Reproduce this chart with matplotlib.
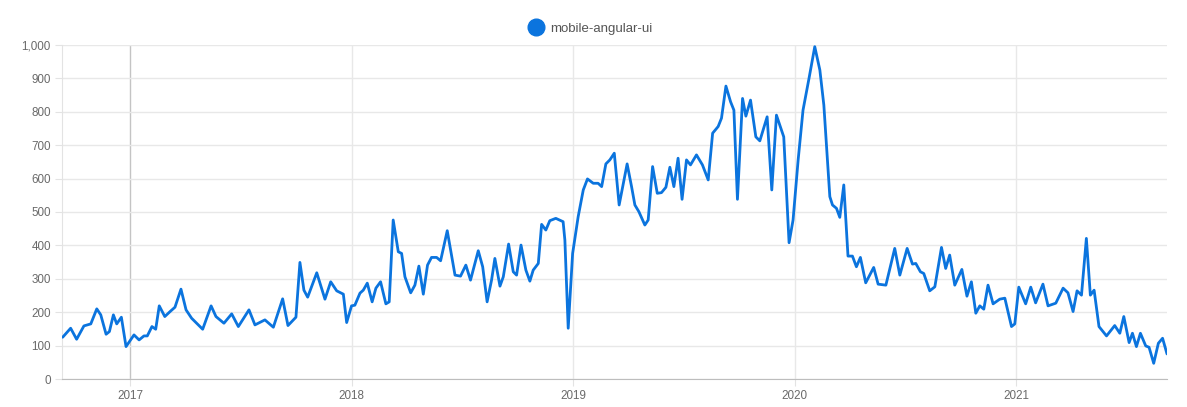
import numpy as np
import pandas as pd
import matplotlib
matplotlib.use("Agg")
import matplotlib.pyplot as plt
from matplotlib.lines import Line2D

plt.rcParams["font.family"] = ["Liberation Sans", "DejaVu Sans"]

SERIES = "mobile-angular-ui"
LINE_COLOR = "#0b74de"

# decimal year of each reading, and the weekly count
years = [
    2016.696, 2016.732, 2016.759, 2016.792, 2016.823, 2016.850, 2016.868, 2016.892,
    2016.907, 2016.925, 2016.940, 2016.961, 2016.982, 2017.018, 2017.041, 2017.063,
    2017.078, 2017.099, 2017.116, 2017.132, 2017.157, 2017.181, 2017.203, 2017.230,
    2017.253, 2017.278, 2017.328, 2017.366, 2017.388, 2017.424, 2017.459, 2017.489,
    2017.537, 2017.564, 2017.609, 2017.647, 2017.689, 2017.713, 2017.749, 2017.767,
    2017.785, 2017.802, 2017.843, 2017.880, 2017.906, 2017.933, 2017.963, 2017.978,
    2018.000, 2018.015, 2018.038, 2018.053, 2018.071, 2018.093, 2018.110, 2018.131,
    2018.155, 2018.170, 2018.188, 2018.211, 2018.226, 2018.241, 2018.267, 2018.286,
    2018.304, 2018.324, 2018.343, 2018.361, 2018.384, 2018.402, 2018.432, 2018.467,
    2018.492, 2018.516, 2018.537, 2018.572, 2018.592, 2018.612, 2018.632, 2018.647,
    2018.670, 2018.685, 2018.709, 2018.730, 2018.745, 2018.765, 2018.787, 2018.805,
    2018.820, 2018.843, 2018.858, 2018.877, 2018.895, 2018.922, 2018.955, 2018.963,
    2018.978, 2018.998, 2019.023, 2019.046, 2019.065, 2019.091, 2019.113, 2019.129,
    2019.148, 2019.166, 2019.186, 2019.208, 2019.244, 2019.264, 2019.279, 2019.297,
    2019.324, 2019.339, 2019.359, 2019.380, 2019.399, 2019.419, 2019.437, 2019.455,
    2019.474, 2019.492, 2019.512, 2019.530, 2019.557, 2019.584, 2019.610, 2019.630,
    2019.655, 2019.670, 2019.690, 2019.711, 2019.726, 2019.742, 2019.765, 2019.780,
    2019.801, 2019.825, 2019.843, 2019.876, 2019.897, 2019.918, 2019.951, 2019.975,
    2019.993, 2020.016, 2020.038, 2020.065, 2020.091, 2020.114, 2020.132, 2020.159,
    2020.171, 2020.189, 2020.204, 2020.222, 2020.241, 2020.261, 2020.279, 2020.297,
    2020.321, 2020.357, 2020.377, 2020.412, 2020.452, 2020.475, 2020.508, 2020.532,
    2020.547, 2020.568, 2020.583, 2020.610, 2020.633, 2020.663, 2020.682, 2020.700,
    2020.723, 2020.755, 2020.778, 2020.798, 2020.818, 2020.836, 2020.854, 2020.873,
    2020.896, 2020.926, 2020.949, 2020.979, 2020.994, 2021.012, 2021.043, 2021.066,
    2021.088, 2021.121, 2021.144, 2021.179, 2021.212, 2021.234, 2021.257, 2021.275,
    2021.295, 2021.317, 2021.335, 2021.352, 2021.374, 2021.408, 2021.445, 2021.468,
    2021.486, 2021.510, 2021.525, 2021.543, 2021.561, 2021.585, 2021.600, 2021.621,
    2021.642, 2021.661, 2021.681,
]
downloads = [
    125, 152, 119, 159, 165, 210, 192, 134,
    142, 192, 165, 185, 97, 132, 117, 129,
    129, 157, 149, 219, 187, 202, 215, 269,
    207, 182, 149, 219, 187, 167, 195, 157,
    207, 162, 177, 155, 240, 160, 185, 349,
    266, 245, 318, 239, 291, 264, 254, 169,
    219, 221, 257, 266, 287, 231, 272, 291,
    225, 231, 476, 381, 376, 306, 258, 281,
    338, 254, 341, 364, 364, 354, 444, 311,
    308, 341, 296, 384, 336, 231, 296, 361,
    278, 306, 404, 321, 311, 401, 326, 293,
    326, 346, 463, 446, 474, 481, 471, 416,
    152, 376, 486, 566, 599, 586, 586, 576,
    644, 656, 676, 521, 644, 576, 521, 501,
    461, 476, 636, 556, 558, 574, 634, 576,
    661, 538, 656, 641, 671, 641, 596, 736,
    756, 781, 877, 830, 805, 538, 840, 787,
    835, 725, 713, 785, 566, 790, 725, 408,
    476, 656, 805, 900, 995, 925, 820, 546,
    521, 511, 484, 581, 368, 368, 336, 364,
    288, 334, 284, 281, 391, 311, 391, 344,
    346, 321, 316, 264, 276, 394, 331, 371,
    281, 328, 248, 291, 197, 219, 209, 281,
    225, 239, 242, 157, 165, 275, 225, 275,
    228, 284, 219, 227, 272, 258, 202, 264,
    251, 421, 251, 266, 157, 129, 160, 137,
    187, 109, 137, 97, 137, 99, 95, 47,
    107, 122, 75,
]
tick_years = [2017, 2018, 2019, 2020, 2021]
y_ticks = list(range(0, 1001, 100))
x_start, x_end = 2016.693, 2021.681


def to_date(yr):
    yr = np.asarray(yr, dtype=float)
    return pd.Timestamp("2017-01-01") + pd.to_timedelta((yr - 2017) * 365.25, unit="D")


dates = to_date(years)

fig = plt.figure(figsize=(11.87, 4.07), dpi=100)
ax = fig.add_axes([62 / 1187, 1 - 379 / 407, (1167 - 62) / 1187, (379 - 45) / 407])

ax.plot(dates, downloads, color=LINE_COLOR, lw=2.0, solid_joinstyle="round",
        solid_capstyle="round", zorder=3)

ax.set_xlim(to_date([x_start])[0], to_date([x_end])[0])
ax.set_ylim(0, 1000)

ax.set_yticks(y_ticks)
ax.set_yticklabels([f"{v:,}" for v in y_ticks])
ax.set_xticks(to_date(tick_years))
ax.set_xticklabels([str(y) for y in tick_years])

ax.grid(True, axis="both", color="#e8e8e8", lw=1.0, zorder=0)
# the 2017 line is drawn darker in the original
ax.get_xgridlines()[0].set_color("#c4c4c4")

for s in ["top", "right"]:
    ax.spines[s].set_visible(False)
ax.spines["left"].set_color("#e3e3e3")
ax.spines["bottom"].set_color("#bdbdbd")
ax.tick_params(axis="y", length=5, color="#e3e3e3", labelsize=8.4,
               labelcolor="#6a6a6a", pad=3)
ax.tick_params(axis="x", length=5, color="#e3e3e3", labelsize=8.4,
               labelcolor="#6a6a6a", pad=3)

handle = Line2D([], [], marker="o", ls="none", markersize=12,
                markerfacecolor=LINE_COLOR, markeredgecolor=LINE_COLOR)
fig.legend([handle], [SERIES], loc="center", bbox_to_anchor=(591 / 1187, 1 - 29 / 407),
           frameon=False, fontsize=9.5, labelcolor="#555555", handletextpad=0.6,
           handlelength=1.0, borderaxespad=0)

fig.savefig("out.png", dpi=100)
